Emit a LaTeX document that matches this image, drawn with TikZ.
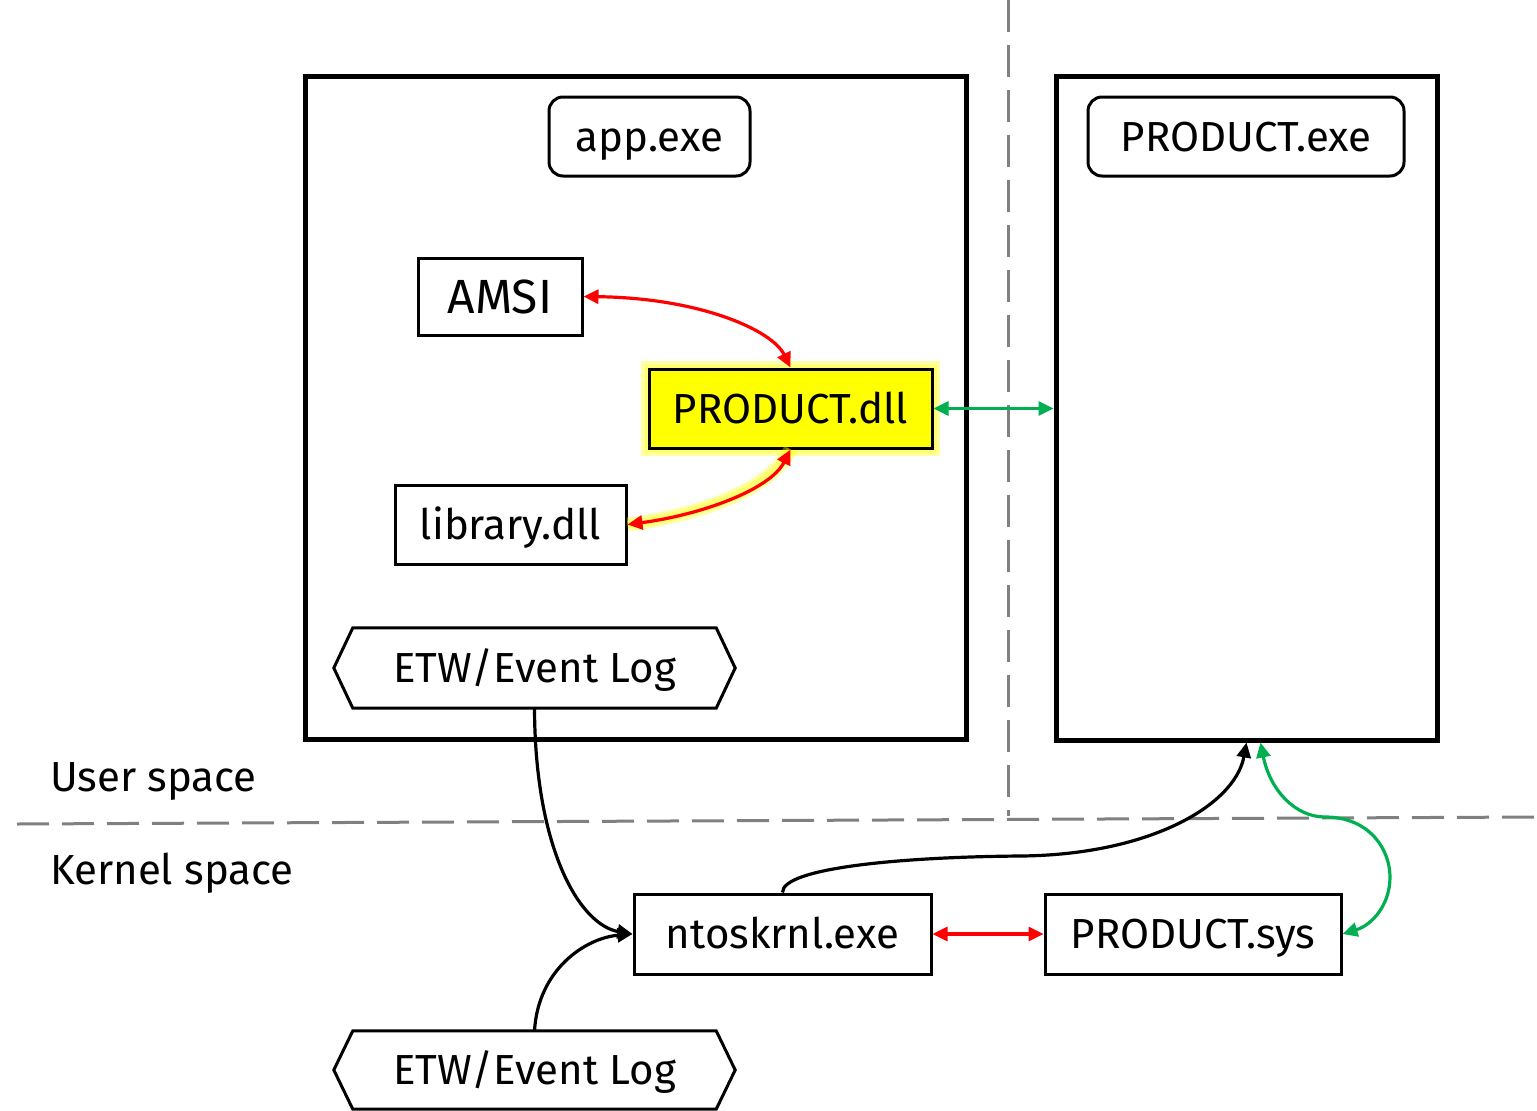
\documentclass[tikz,border=0pt]{standalone}
\usepackage{fontspec}
\setmainfont{Fira Sans}
\usetikzlibrary{arrows.meta}
\definecolor{okred}{HTML}{FF0000}
\definecolor{okgreen}{HTML}{00B050}
\definecolor{okyellow}{HTML}{FFFF00}
\definecolor{divider}{HTML}{808080}
\begin{document}
\begin{tikzpicture}[x=1pt,y=-1pt,
  lbl/.style={font=\fontsize{42}{46}\selectfont, text height=29pt, text depth=0pt},
  process/.style={draw, line width=5pt, inner sep=0pt},
  item/.style={draw, line width=3pt, inner sep=0pt, fill=white, lbl},
  rounditem/.style={item, rounded corners=14pt},
  hexitem/.style={inner sep=0pt, lbl},
  link/.style={line width=3.2pt},
  both/.style={link, {Triangle[length=15pt,width=14pt]}-{Triangle[length=15pt,width=14pt]}},
  one/.style={link, -{Triangle[length=15pt,width=14pt]}},
  divline/.style={draw=divider, line width=3pt, dash pattern=on 32pt off 13pt},
  glow/.style={draw=okyellow, line width=#1, opacity=0.35}
]
\useasboundingbox (0,0) rectangle (1537,1111);

% user / kernel dividers
\draw[divline] (1008,0) -- (1008,816);
\draw[divline] (17,824) -- (1537,817);

% process containers
\node[process, minimum width=661pt, minimum height=663pt] (proc1) at (635.5,407.5) {};
\node[process, minimum width=381pt, minimum height=664pt] (proc2) at (1246.5,408) {};

% glow behind the product DLL
\draw[glow=16pt] (649,369) rectangle (932,448);
\draw[glow=9pt] (649,369) rectangle (932,448);

% components
\node[rounditem, minimum width=201pt, minimum height=79pt] (app) at (649.5,136.5) {app.exe};
\node[rounditem, minimum width=316pt, minimum height=79pt] (pexe) at (1246,136.5) {PRODUCT.exe};
\node[item, minimum width=164pt, minimum height=77pt, font=\fontsize{48}{52}\selectfont, text height=33pt] (amsi) at (500,296.5) {AMSI};
\node[item, fill=okyellow, minimum width=283pt, minimum height=79pt] (pdll) at (790.5,408.5) {PRODUCT.dll};
\node[item, minimum width=231pt, minimum height=79pt] (lib) at (510.5,524.5) {library.dll};
\node[item, minimum width=297pt, minimum height=80pt] (ntos) at (782.5,934) {ntoskrnl.exe};
\node[item, minimum width=296pt, minimum height=80pt] (psys) at (1193,934) {PRODUCT.sys};

% event log hexagons
\node[hexitem, minimum width=401pt, minimum height=80pt] (etw1) at (534.5,668) {ETW/Event Log};
\node[hexitem, minimum width=401pt, minimum height=78pt] (etw2) at (534.5,1070) {ETW/Event Log};
\foreach \h in {etw1,etw2}{
  \draw[line width=3pt, line join=miter]
    (\h.west) -- ([xshift=19pt]\h.north west) -- ([xshift=-19pt]\h.north east)
    -- (\h.east) -- ([xshift=-19pt]\h.south east) -- ([xshift=19pt]\h.south west) -- cycle;
}

% region labels
\node[lbl, anchor=west, inner sep=0pt] (user) at (50,777) {User space};
\node[lbl, anchor=west, inner sep=0pt] (kernel) at (50,870) {Kernel space};

% connectors
\draw[both, okred] (amsi.east) .. controls (700,298) and (772,330) .. (pdll.north);
\draw[glow=14pt] (lib.east) .. controls (700,515) and (770,490) .. (pdll.south);
\draw[glow=8pt] (lib.east) .. controls (700,515) and (770,490) .. (pdll.south);
\draw[both, okred] (lib.east) .. controls (700,515) and (770,490) .. (pdll.south);
\draw[both, okgreen] (pdll.east) -- (proc2.west |- pdll.east);
\draw[one] (etw1.south) .. controls (535,850) and (580,925) .. (ntos.west);
\draw[one] (etw2.north) .. controls (538,970) and (585,938) .. (ntos.west);
\draw[one] (ntos.north) .. controls (782,868) and (900,857) .. (1020,856)
  .. controls (1150,855) and (1235,805) .. (proc2.south);
\draw[both, okgreen] ([xshift=14pt]proc2.south) .. controls (1270,790) and (1295,817) .. (1325,817)
  .. controls (1370,817) and (1390,850) .. (1390,877) .. controls (1390,905) and (1372,925) .. (psys.east);
\draw[both, okred] (ntos.east) -- (psys.west);
\end{tikzpicture}
\end{document}
